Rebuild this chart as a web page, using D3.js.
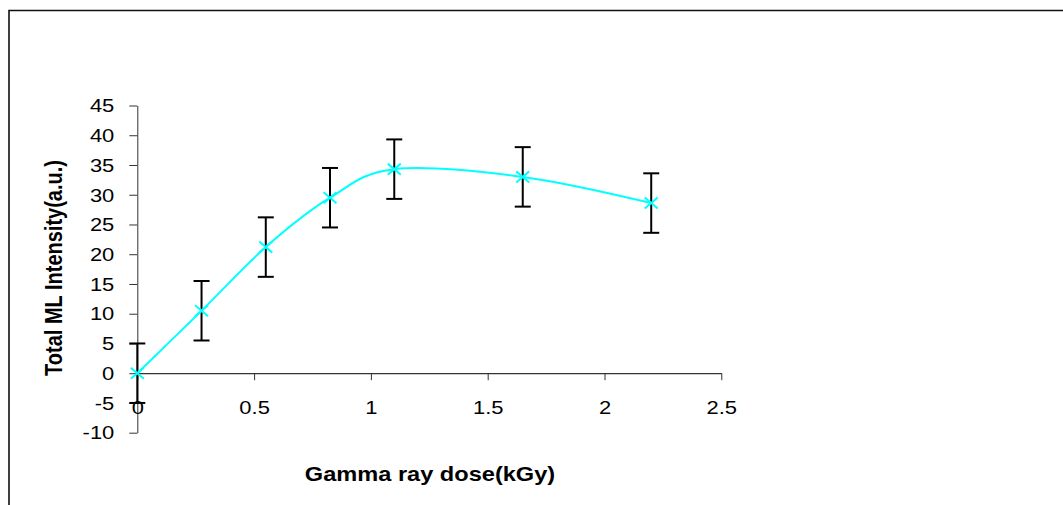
<!DOCTYPE html>
<html>
<head>
<meta charset="utf-8">
<script src="https://cdn.jsdelivr.net/npm/d3@7"></script>
<style>
  html, body { margin: 0; padding: 0; background: #fff; }
  svg { display: block; font-family: "Liberation Sans", Arial, sans-serif; }
</style>
</head>
<body>
<svg id="chart" width="1063" height="505"></svg>
<script>
// Total ML intensity versus gamma-ray dose
const doses = [0, 0.275, 0.55, 0.825, 1.1, 1.65, 2.2];
const intensity = [0, 10.5, 21.2, 29.5, 34.3, 33.0, 28.6];
const errors = [5, 5, 5, 5, 5, 5, 5];
const xTicks = [0, 0.5, 1, 1.5, 2, 2.5];
const yTicks = [-10, -5, 0, 5, 10, 15, 20, 25, 30, 35, 40, 45];

const xTitle = "Gamma ray dose(kGy)";
const yTitle = "Total ML Intensity(a.u.)";

const stretch = 1.22; // horizontal widening of the lettering
const plain = d => String(d); // hyphen-minus for negatives

const svg = d3.select("#chart");

const x = d3.scaleLinear().domain([0, 2.5]).range([137.3, 721.3]);
const y = d3.scaleLinear().domain([-10, 45]).range([432.7, 105.5]);

// Outer frame (top and left edges)
svg.append("path")
  .attr("d", "M9,505 V10.5 H1063")
  .attr("fill", "none")
  .attr("stroke", "#111")
  .attr("stroke-width", 1.6);

// Y axis
const yAxis = svg.append("g")
  .attr("transform", `translate(${x(0)},0)`)
  .call(d3.axisLeft(y).tickValues(yTicks).tickSize(8).tickSizeOuter(0).tickFormat(plain));
yAxis.select(".domain").attr("stroke", "#333");
yAxis.selectAll(".tick line").attr("stroke", "#333");
yAxis.selectAll(".tick text")
  .attr("x", null).attr("dy", null)
  .attr("text-anchor", "end")
  .attr("dominant-baseline", "central")
  .attr("font-size", 18)
  .attr("fill", "#000")
  .attr("font-family", "Liberation Sans, Arial, sans-serif")
  .attr("transform", `translate(-23,0) scale(${stretch},1)`);

// X axis along zero
const xAxis = svg.append("g")
  .attr("transform", `translate(0,${y(0)})`)
  .call(d3.axisBottom(x).tickValues(xTicks).tickSize(7).tickSizeOuter(0).tickFormat(plain));
xAxis.select(".domain").attr("stroke", "#000");
xAxis.selectAll(".tick line").attr("stroke", "#333");
xAxis.selectAll(".tick text")
  .attr("y", null).attr("dy", null)
  .attr("text-anchor", "middle")
  .attr("font-size", 18)
  .attr("fill", "#000")
  .attr("font-family", "Liberation Sans, Arial, sans-serif")
  .attr("transform", `translate(0,${414 - y(0)}) scale(${stretch},1)`);

// Error bars
const eb = svg.append("g").attr("stroke", "#000").attr("stroke-width", 2);
doses.forEach((d, i) => {
  const cx = x(d), top = y(intensity[i] + errors[i]), bot = y(intensity[i] - errors[i]);
  eb.append("line").attr("x1", cx).attr("x2", cx).attr("y1", top).attr("y2", bot);
  eb.append("line").attr("x1", cx - 8).attr("x2", cx + 8).attr("y1", top).attr("y2", top);
  eb.append("line").attr("x1", cx - 8).attr("x2", cx + 8).attr("y1", bot).attr("y2", bot);
});

// Smoothed series line
const pts = doses.map((d, i) => [d, intensity[i]]);
svg.append("path")
  .datum(pts)
  .attr("fill", "none")
  .attr("stroke", "#00FFFF")
  .attr("stroke-width", 2)
  .attr("d", d3.line().x(p => x(p[0])).y(p => y(p[1])).curve(d3.curveCardinal.tension(0)));

// X-shaped markers
const mk = svg.append("g").attr("stroke", "#00FFFF").attr("stroke-width", 2);
pts.forEach(p => {
  const cx = x(p[0]), cy = y(p[1]), r = 6.5;
  mk.append("path").attr("d", `M${cx - r},${cy - r * 0.85}L${cx + r},${cy + r * 0.85}M${cx - r},${cy + r * 0.85}L${cx + r},${cy - r * 0.85}`);
});

// Axis titles
svg.append("text")
  .attr("text-anchor", "middle")
  .attr("font-size", 20)
  .attr("font-weight", "bold")
  .attr("transform", `translate(430,481) scale(1.18,1)`)
  .text(xTitle);

svg.append("text")
  .attr("text-anchor", "middle")
  .attr("font-size", 20)
  .attr("font-weight", "bold")
  .attr("transform", `translate(62,268) scale(${stretch},1) rotate(-90)`)
  .text(yTitle);
</script>
</body>
</html>
